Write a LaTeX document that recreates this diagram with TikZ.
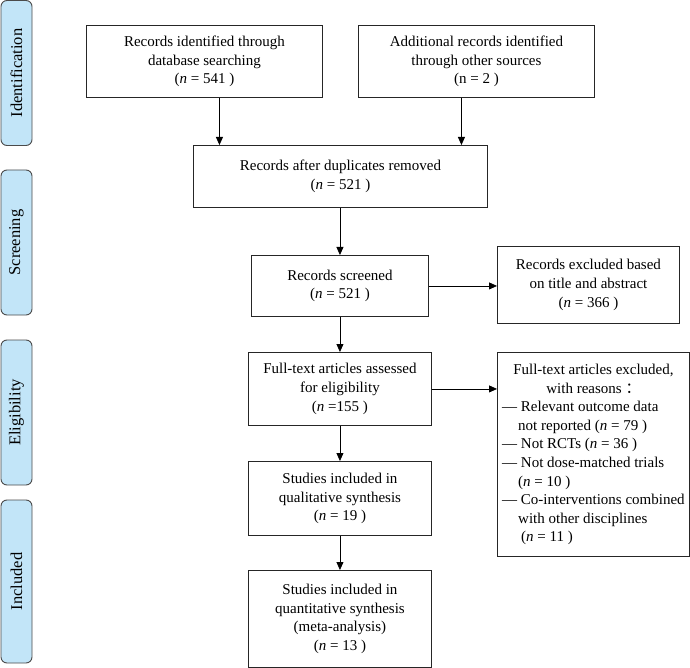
\documentclass[tikz,border=0pt]{standalone}
\usepackage{fontspec}
\setmainfont{Liberation Serif}
\newfontfamily\cjk{Noto Sans CJK SC}
\usetikzlibrary{arrows.meta}
\definecolor{stagefill}{RGB}{194,229,248}
\definecolor{stageline}{RGB}{75,75,75}
\tikzstyle{rect} = [rectangle, draw=black!85, line width=0.9pt, align=center, anchor=north west, inner sep=0pt, font=\fontsize{15}{18.6}\selectfont]
\tikzstyle{stage} = [rectangle, rounded corners=6pt, draw=stageline, fill=stagefill, line width=0.9pt, minimum height=31pt, inner sep=0pt, rotate=90, font=\fontsize{16.5}{19}\selectfont]
\tikzstyle{flow} = [draw=black, line width=0.8pt, -{Triangle[length=8pt,width=7pt]}]

\begin{document}
\begin{tikzpicture}[x=1pt, y=-1pt]

            \useasboundingbox (0,0) rectangle (690,668);

            %% stages

            \node (ident) [stage, minimum width=145pt] at (16.5,73) {Identification};
            \node (screen) [stage, minimum width=145pt] at (16.5,242.5) {Screening};
            \node (elig) [stage, minimum width=145pt] at (16.5,412.5) {Eligibility};
            \node (incl) [stage, minimum width=163pt] at (16.5,581.5) {Included};

            %% boxes

            \node (db) [rect, minimum width=236pt, minimum height=72pt] at (86,25) {Records identified through\\ database searching\\ (\textit{n} = 541 )};
            \node (other) [rect, minimum width=236pt, minimum height=72pt] at (358,25) {Additional records identified\\ through other sources\\ (n = 2 )};
            \node (dup) [rect, minimum width=294pt, minimum height=62pt] at (193,145) {Records after duplicates removed\\ (\textit{n} = 521 )};
            \node (scr) [rect, minimum width=177pt, minimum height=61pt] at (251,255) {Records screened\\ (\textit{n} = 521 )};
            \node (excl) [rect, minimum width=182pt, minimum height=77pt] at (497,246) {Records excluded based\\ on title and abstract\\ (\textit{n} = 366 )};
            \node (full) [rect, minimum width=183pt, minimum height=73pt] at (248,352) {Full-text articles assessed\\ for eligibility\\ (\textit{n} =155 )};
            \node (why) [rect, minimum width=192pt, minimum height=204pt] at (497,352) {%
                \begin{tabular}{@{}l@{}}
                \multicolumn{1}{@{}c@{}}{Full-text articles excluded,}\\
                \multicolumn{1}{@{}c@{}}{with reasons {\cjk ：}}\\
                --- Relevant outcome data\\
                \hspace{16pt}not reported (\textit{n} = 79 )\\
                --- Not RCTs (\textit{n} = 36 )\\
                --- Not dose-matched trials\\
                \hspace{16pt}(\textit{n} = 10 )\\
                --- Co-interventions combined\\
                \hspace{16pt}with other disciplines\\
                \hspace{19pt}(\textit{n} = 11 )
                \end{tabular}};
            \node (qual) [rect, minimum width=183pt, minimum height=74pt] at (248,461) {Studies included in\\ qualitative synthesis\\ (\textit{n} = 19 )};
            \node (quant) [rect, minimum width=183pt, minimum height=97pt] at (248,570) {Studies included in\\ quantitative synthesis\\ (meta-analysis)\\ (\textit{n} = 13 )};

            %% arrows

            \draw [flow] ([xshift=15pt]db.south) -- ([xshift=15pt]db.south |- dup.north);
            \draw [flow] ([xshift=-15pt]other.south) -- ([xshift=-15pt]other.south |- dup.north);
            \draw [flow] (scr.north |- dup.south) -- (scr.north);
            \draw [flow] (scr.east) -- (scr.east -| excl.west);
            \draw [flow] (scr.south) -- (full.north);
            \draw [flow] (full.east) -- (full.east -| why.west);
            \draw [flow] (full.south) -- (qual.north);
            \draw [flow] (qual.south) -- (quant.north);

        \end{tikzpicture}
\end{document}
